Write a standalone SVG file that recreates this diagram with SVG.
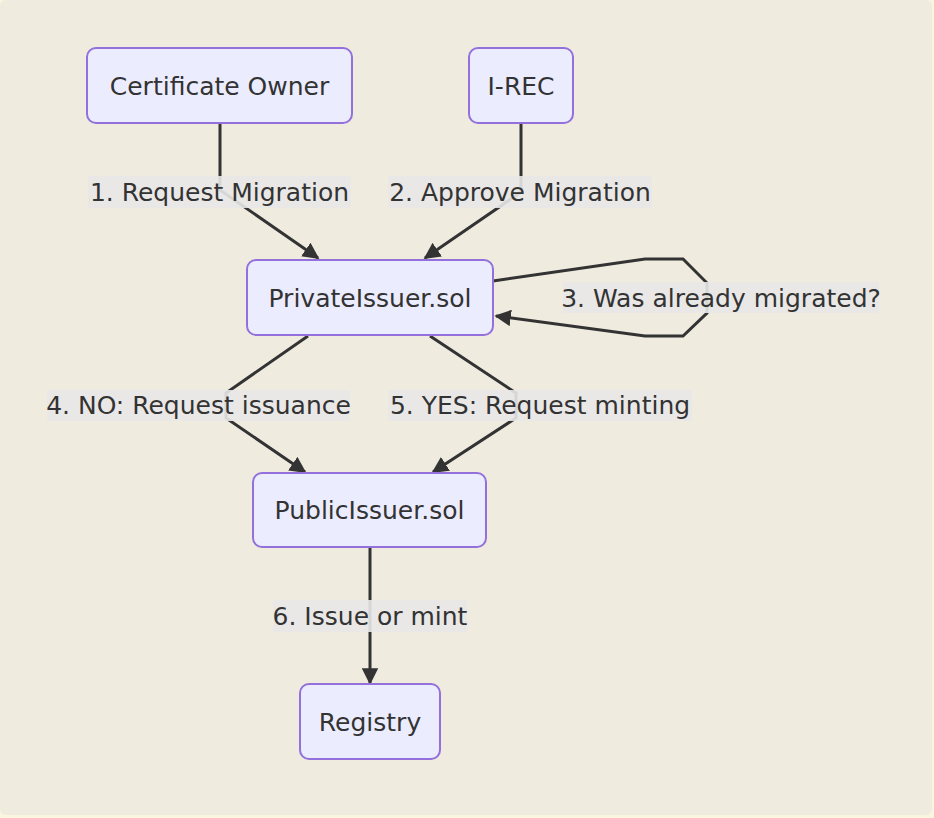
<svg xmlns="http://www.w3.org/2000/svg" width="934" height="818" viewBox="0 0 934 818">
<style>
.node rect{fill:#ececff;stroke:#9370db;stroke-width:2}
text{font-family:"DejaVu Sans",Verdana,sans-serif;font-size:25px;fill:#333;text-anchor:middle;dominant-baseline:central}
.edge{fill:none;stroke:#333;stroke-width:3}
.lbl{fill:#e8e8e8;opacity:0.9}
</style>
<defs>
<marker id="arr" viewBox="0 0 10 10" refX="9" refY="5" markerWidth="5.5" markerHeight="5.5" markerUnits="strokeWidth" orient="auto">
<path d="M0,0 L10,5 L0,10 z" fill="#333"/>
</marker>
</defs>
<rect x="0" y="0" width="934" height="818" fill="#fbf5e0"/>
<rect x="0" y="0" width="932" height="815" rx="6" fill="#efebdf"/>
<g id="connectors">
<path class="edge" d="M220,123 L220,190 L318,258" marker-end="url(#arr)"/>
<path class="edge" d="M521,123 L521,192 L425,258" marker-end="url(#arr)"/>
<path class="edge" d="M493,281 L645,259 L683,259 L707,283 L707,313 L683,336 L645,336 L496,316" marker-end="url(#arr)"/>
<path class="edge" d="M308,336 L226,393 L226,418 L305,472" marker-end="url(#arr)"/>
<path class="edge" d="M430,336 L516,393 L516,418 L433,472" marker-end="url(#arr)"/>
<path class="edge" d="M370,547 L370,683" marker-end="url(#arr)"/>
<rect class="lbl" x="88" y="176" width="263" height="32"/>
<text x="219.5" y="192">1. Request Migration</text>
<rect class="lbl" x="388" y="176" width="264" height="32"/>
<text x="520" y="192">2. Approve Migration</text>
<rect class="lbl" x="563" y="282" width="316" height="31"/>
<text x="721" y="298">3. Was already migrated?</text>
<rect class="lbl" x="47" y="390" width="303" height="31"/>
<text x="198.5" y="405">4. NO: Request issuance</text>
<rect class="lbl" x="388" y="390" width="304" height="31"/>
<text x="540" y="405">5. YES: Request minting</text>
<rect class="lbl" x="273" y="600" width="194" height="32"/>
<text x="370" y="616">6. Issue or mint</text>
</g>
<g id="certificate-owner" class="node">
<rect x="87" y="48" width="265" height="75" rx="9"/>
<text x="219.5" y="86">Certificate Owner</text>
</g>
<g id="i-rec" class="node">
<rect x="469" y="48" width="104" height="75" rx="9"/>
<text x="521" y="86">I-REC</text>
</g>
<g id="private-issuer" class="node">
<rect x="247" y="260" width="246" height="75" rx="9"/>
<text x="370" y="298">PrivateIssuer.sol</text>
</g>
<g id="public-issuer" class="node">
<rect x="253" y="473" width="233" height="74" rx="9"/>
<text x="369.5" y="510">PublicIssuer.sol</text>
</g>
<g id="registry" class="node">
<rect x="300" y="684" width="140" height="75" rx="9"/>
<text x="370" y="722">Registry</text>
</g>
</svg>
